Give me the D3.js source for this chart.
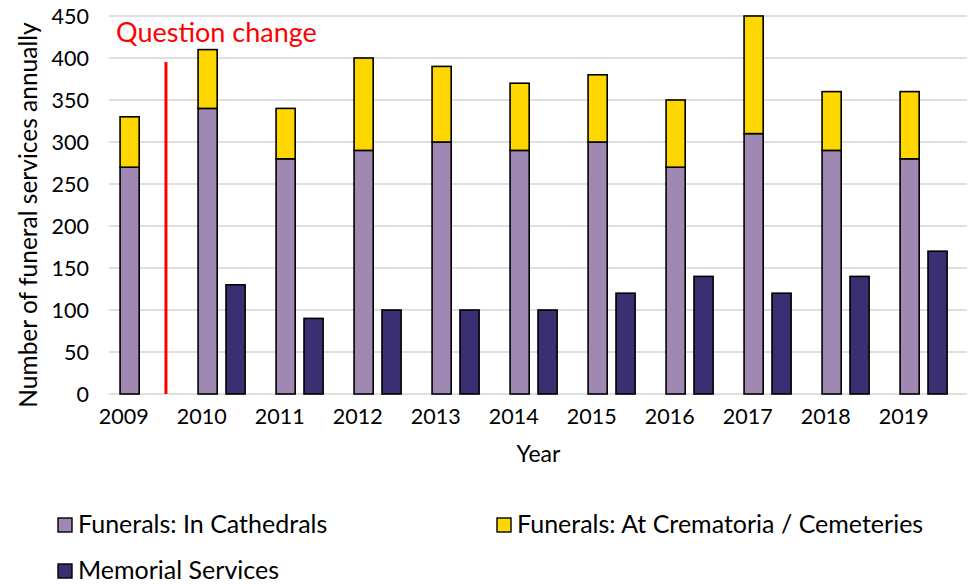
<!DOCTYPE html>
<html><head><meta charset="utf-8">
<script src="https://cdn.jsdelivr.net/npm/d3@7"></script>
<style>body{margin:0;background:#fff}svg{display:block}text{font-family:Lato,"Open Sans",sans-serif}</style>
</head><body><svg id="c" width="969" height="584"></svg>
<script>
const years = ["2009","2010","2011","2012","2013","2014","2015","2016","2017","2018","2019"];
const cathedrals = [270,340,280,290,300,290,300,270,310,290,280];
const crematoria = [60,70,60,110,90,80,80,80,140,70,80];
const memorial = [null,130,90,100,100,100,120,140,120,140,170];
const yTicks = [0,50,100,150,200,250,300,350,400,450];
const seriesNames = ["Funerals: In Cathedrals","Funerals: At Crematoria / Cemeteries","Memorial Services"];
const colors = ["#9f88b2","#ffd700","#3a2f70"];

const svg = d3.select("#c");
const x = d3.scaleBand().domain(years).range([109,967]).padding(0);
const y = d3.scaleLinear().domain([0,450]).range([394,16]);
const bw = x.bandwidth();
const barW = bw*0.245;

// gridlines
svg.append("g").selectAll("line").data(yTicks).join("line")
  .attr("x1",109).attr("x2",967).attr("y1",d=>y(d)).attr("y2",d=>y(d))
  .attr("stroke","#d4d4d4").attr("stroke-width",1.6);

// y tick labels
svg.append("g").selectAll("text").data(yTicks).join("text")
  .attr("x",89).attr("y",d=>y(d)+7.5).attr("text-anchor","end")
  .attr("font-size",21.5).attr("fill","#000").text(d=>d);

// x tick labels
svg.append("g").selectAll("text").data(years).join("text")
  .attr("x",d=>x(d)+bw*0.19).attr("y",424).attr("text-anchor","middle")
  .attr("font-size",21.5).attr("fill","#000").text(d=>d);

// stacked bars
const stackData = years.map((yr,i)=>({yr, a:cathedrals[i], b:crematoria[i]}));
const stack = d3.stack().keys(["a","b"])(stackData);
svg.append("g").selectAll("g").data(stack).join("g")
  .attr("fill",(d,i)=>colors[i])
  .selectAll("rect").data(d=>d).join("rect")
  .attr("x",d=>x(d.data.yr)+bw*0.142).attr("width",barW)
  .attr("y",d=>y(d[1])).attr("height",d=>y(d[0])-y(d[1]))
  .attr("stroke","#000").attr("stroke-width",1.6);

// memorial bars
svg.append("g").selectAll("rect").data(years.map((yr,i)=>({yr,v:memorial[i]})).filter(d=>d.v!=null)).join("rect")
  .attr("x",d=>x(d.yr)+bw*0.5).attr("width",barW)
  .attr("y",d=>y(d.v)).attr("height",d=>y(0)-y(d.v))
  .attr("fill",colors[2]).attr("stroke","#000").attr("stroke-width",1.6);

// question change marker
const qx = x("2010") - bw*0.27;
svg.append("line").attr("x1",qx).attr("x2",qx).attr("y1",62).attr("y2",y(0))
  .attr("stroke","#ff0000").attr("stroke-width",3);
svg.append("text").attr("x",116).attr("y",42).attr("font-size",27).attr("fill","#ff0000").text("Question change");

// axis titles
svg.append("text").attr("transform","translate(37,215) rotate(-90)").attr("text-anchor","middle")
  .attr("font-size",24.5).attr("fill","#000").text("Number of funeral services annually");
svg.append("text").attr("x",538.5).attr("y",462).attr("text-anchor","middle")
  .attr("font-size",23).attr("fill","#000").text("Year");

// legend
const legend = [{i:0,x:58,y:533},{i:1,x:497,y:533},{i:2,x:58,y:579}];
const lg = svg.append("g").selectAll("g").data(legend).join("g");
lg.append("rect").attr("x",d=>d.x).attr("y",d=>d.y-15).attr("width",14).attr("height",14)
  .attr("fill",d=>colors[d.i]).attr("stroke","#000").attr("stroke-width",1.4);
lg.append("text").attr("x",d=>d.x+20).attr("y",d=>d.y).attr("font-size",25).attr("fill","#000")
  .text(d=>seriesNames[d.i]);
</script></body></html>
